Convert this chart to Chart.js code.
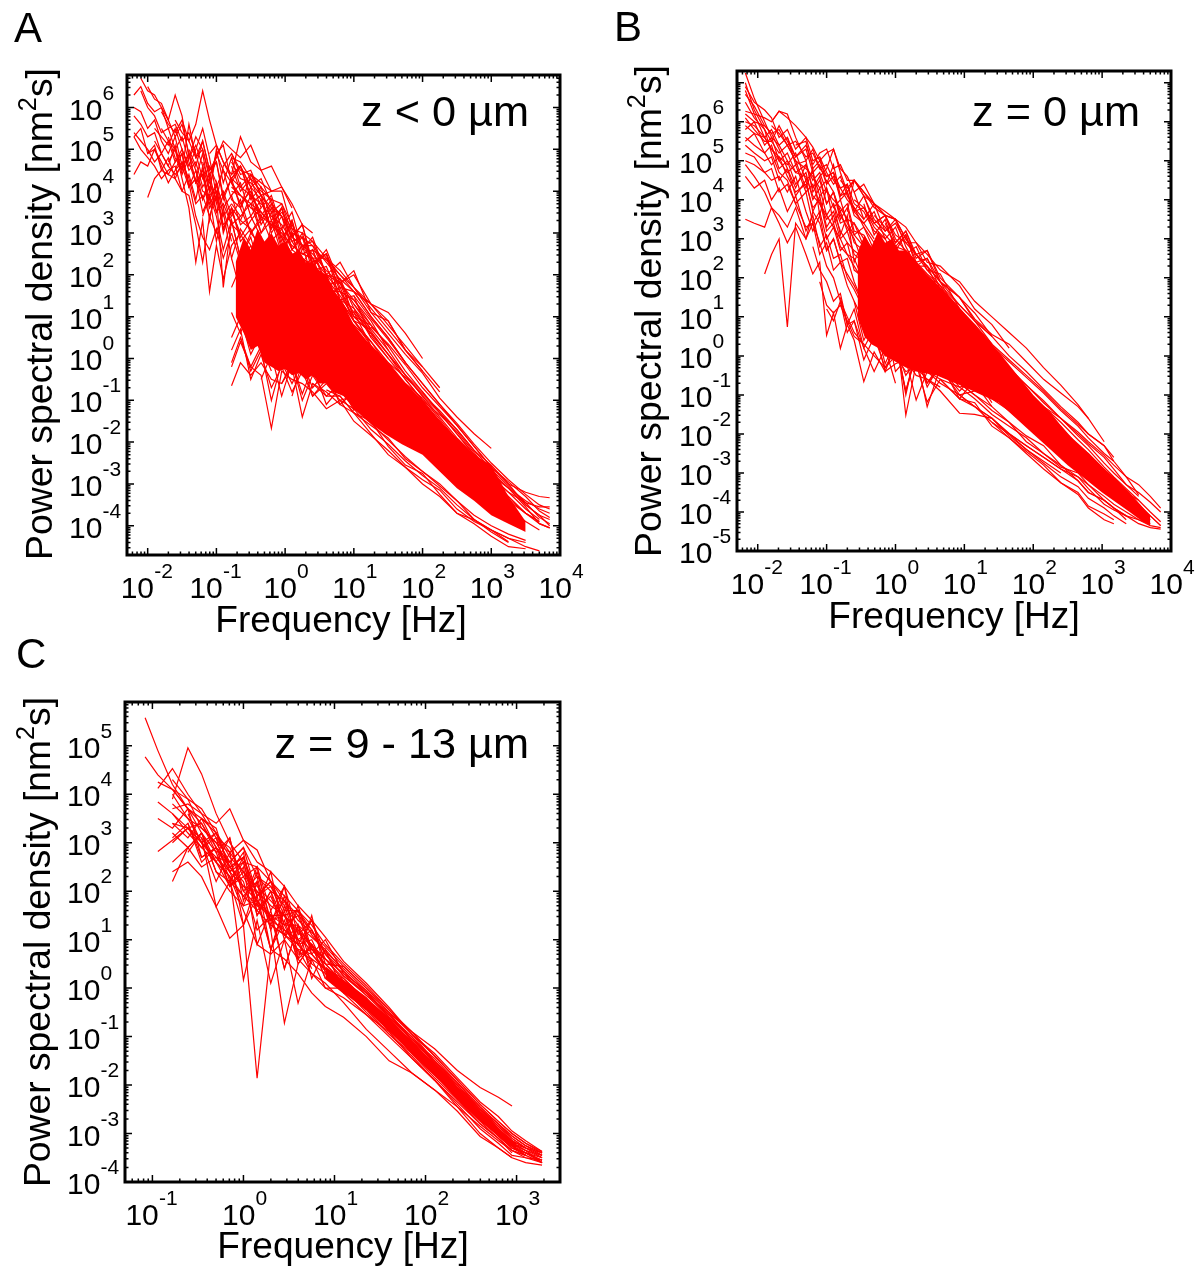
<!DOCTYPE html>
<html>
<head>
<meta charset="utf-8">
<title>Power spectral density</title>
<script src="https://cdn.jsdelivr.net/npm/chart.js@4/dist/chart.umd.min.js"></script>
<style>
html, body { margin: 0; padding: 0; background: #fff; }
canvas { position: absolute; filter: blur(0.4px); }
</style>
</head>
<body>
<canvas id="panelA" width="600" height="640" style="left:0;top:0;width:600px;height:640px"></canvas>
<canvas id="panelB" width="604" height="640" style="left:600px;top:0;width:604px;height:640px"></canvas>
<canvas id="panelC" width="600" height="640" style="left:0;top:630px;width:600px;height:640px"></canvas>
<script>
// all traces are log10 values
// a trace is [index of first frequency, psd, psd, ...]
const xTicksA = [-2, -1, 0, 1, 2, 3, 4];
const yTicksA = [-4, -3, -2, -1, 0, 1, 2, 3, 4, 5, 6];
const logFreqA = [-2.2, -2.1, -2, -1.9, -1.8, -1.7, -1.6, -1.5, -1.4, -1.3, -1.2, -1.1, -1, -0.9, -0.78, -0.65, -0.5, -0.35, -0.2, -0.05, 0.1, 0.25, 0.4, 0.6, 0.8, 1, 1.25, 1.5, 1.75, 2, 2.25, 2.5, 2.75, 3, 3.25, 3.5, 3.7, 3.85];
const tracesA = [
    [0, 6.3, 6.5, 6.1, 5.9, 6, 5.5, 5.6, 5.2, 5.4, 4.9, 4.3, 4.6, 4.2, 3.6, 3.9, 3.2, 3.4, 2.9],
    [0, 5.4, 5.2, 5, 4.7, 4.9, 4.6, 4.4, 4.6, 4.1, 4.3, 3.8, 4.1, 3.5, 3.7, 3.2, 3.4],
    [0, 5.3, 5, 4.8, 4.6, 4.3, 4.5, 4.6, 4, 3.9, 3.2, 2.3, 3.4, 3, 3.6, 2.8],
    [0, 4.4, 4.7, 4.6, 5, 4.6, 4.2, 4.5, 4.7, 4.3, 3.7, 3.9, 3.4, 3.9, 3.2, 3.4],
    [1, 6.7, 6.4, 6.3, 6, 5.7, 5.3, 5.6, 4.9, 4.5, 4, 3.9, 4.1, 4.5, 3.8, 3.6, 3, 3.3],
    [2, 6.5, 6.2, 6.1, 5.7, 6.3, 5.8, 4.8, 5.1, 4.6, 3.3, 4.2, 3, 3.6, 2.8, 3.1],
    [2, 3.85, 4.3, 4.5, 4.4, 4.3, 4.7, 4.2, 3.4, 2.9, 2.6, 3.1, 2.4, 3],
    [4, 5.9, 5.6, 5.4, 5.7, 5.2, 5.6, 6.4, 5.7, 5.1, 4.7, 4.4, 5.3, 4.7, 4.5, 4, 4.1, 3.6],
    [3, 5.5, 5.3, 5.1, 5.5, 5, 4.6, 5, 5.5, 4.8, 3.9, 1.7, 3.3, 2.4, 2.9, 2, 2.8],
    [5, 4.7, 5, 4.3, 3.6, 2.3, 3.3, 1.6, 2.7, 1.9, 2.7, 3, 2.4, 2.2],
    [0, 5.3, 5.5, 4.9, 5.1, 4.5, 4.8, 4.3, 4, 4.4, 3.8, 4.6, 4, 4.9, 4.5, 4.2, 3.9],
    [6, 5.7, 5.4, 5.2, 4.8, 5.2, 4.5, 4.8, 5.2, 5, 4.8, 5.1, 4.5, 4.6, 4.1, 3.7, 3.2, 3],
    [0, 5.8, 5.6, 5.3, 5.4, 4.9, 5.2, 4.7, 5, 4.5, 4.7, 4.1, 4.4, 3.7, 4, 3.4],
    [0, 6, 5.9, 5.5, 5.7, 5.2, 4.9, 5.3, 4.6, 4.9, 4.2, 4.5, 3.8, 4.2, 3.4, 3.7],
    [1, 6.4, 6, 5.8, 5.4, 5.5, 5, 5.3, 4.7, 4.2, 4.4, 3.6, 3.9, 3.1, 3.5, 3],
    [2, 4.9, 5, 4.7, 4.4, 4.7, 4.9, 4.1, 4.5, 3.8, 4.3, 3.5, 3.9, 3.2, 3],
    [3, 5.2, 4.9, 4.6, 5.1, 4.4, 4.8, 5.3, 5, 4.4, 4.7, 3.9, 4.3, 4.6, 3.9, 3.5],
    [4, 5.5, 5.2, 5, 4.5, 5.6, 4.8, 5, 4.3, 4.9, 5.1, 4.2, 4.6, 4.1, 3.8],
    [5, 5.3, 4.8, 4.5, 4.9, 4.2, 4.4, 3.7, 4, 3.1, 3.6, 2.9, 3.3, 3.6],
    [6, 4.5, 4.9, 4.1, 4.3, 3.5, 3.9, 3.4, 2.6, 3.3, 2.4, 3, 2.7],
    [8, 5, 4.6, 5.2, 4.5, 4.7, 3.8, 4.3, 3.6, 4.4, 4.1, 3.8],
    [9, 4.3, 4.9, 4, 5, 4.2, 4.8, 4.1, 4.4, 3.9, 4],
    [10, 4.7, 4.2, 3.8, 4.6, 4.9, 4.4, 4.5, 3.9, 3.5, 3.7, 3.2],
    [10, 3.4, 3.9, 2.8, 3.5, 2.4, 3.1, 2.7, 2, 3.2, 3.5],
    [11, 4.9, 5.1, 4.7, 4.3, 4.6, 4.1, 4.3, 3.7, 3.4],
    [14, 4.9, 4.5, 4.4, 4.2, 4, 4, 3.1, 3, 2.8, 2.4, 2.1, 1.7, 1.1, 0.6, 0.1, -0.35, -0.95, -1.4, -1.8, -2.15],
    [14, 4.8, 4.7, 4.3, 4, 3.8, 3.7, 3, 2.9, 2.7, 2.3, 1.9, 1.6, 1, 0.5, -0.1, -0.6, -1.1, -1.6, -2.1, -2.6, -3, -3.2, -3.3, -3.33],
    [14, 4.7, 4.3, 4.2, 3.9, 3.6, 3.4, 2.9, 2.7, 2.5, 2.1, 1.8, 1.3, 0.8, 0.3, -0.3, -0.8, -1.3, -1.8, -2.3, -2.8, -3.2, -3.45, -3.55, -3.55],
    [14, 4.3, 4.1, 3.9, 3.7, 3.4, 3.2, 2.8, 2.4, 2.2, 1.9, 1.5, 1, 0.6, 0.1, -0.5, -1, -1.5, -2, -2.5, -3, -3.4, -3.7, -3.9],
    [14, 4, 3.9, 3.6, 3.4, 3.2, 2.9, 2.5, 2.2, 2, 1.7, 1.2, 0.8, 0.4, -0.2, -0.7, -1.2, -1.7, -2.2, -2.7, -3.2, -3.6, -3.9, -4.1],
    [14, -0.65, -0.1, -0.4, -0.1, -0.5, -0.6, -0.2, -1.4, -0.6, -0.9, -0.9, -1.3, -1.6, -1.9, -2.4, -2.7, -3, -3.4, -3.85, -4.1, -4.3, -4.4],
    [14, -0.2, 0.4, -0.2, -0.4, -1.67, -0.3, -0.5, -0.6, -0.8, -1.2, -1, -1.5, -1.84, -2.2, -2.6, -2.9, -3.15, -3.6, -3.9, -4.1, -4.3, -4.5, -4.6],
    [22, -0.6, -0.8, -1.1, -1.3, -1.8, -2.3, -2.6, -3, -3.3, -3.7, -3.86, -4.1, -4.38],
    [16, 3.6, 3.5, 3.2, 3, 2.7, 2.5, 2.4, 2, 1.6, 1.1, 0.6, 0.1, -0.4, -0.9, -1.3, -1.8, -2.3, -2.7, -3.1, -3.5, -3.75, -3.85],
    [18, 3.3, 2.9, 2.5, 2.2, 2.1, 1.8, 1.4, 0.9, 0.4, -0.1, -0.6, -1.1, -1.5, -2, -2.4, -2.9, -3.3, -3.7, -3.95, -4.05],
    [14, 4.1, 3.9, 3.7, 3.5, 3.2, 3.1, 2.6, 2.4, 2.2, 1.5, 1.4, 0.9, 0.3, -0.2, -0.7, -1.1, -1.6, -2.1, -2.5, -3, -3.35, -3.7, -3.9],
    [25, 1.3, 0.7, 0.2, -0.4, -0.9, -1.4, -1.9, -2.3, -2.8, -3.1, -3.4, -3.6, -3.7],
    [14, 4.6, 4, 4.3, 3.6, 3.9, 3.1, 3.5, 2.6, 2.9, 2, 1.9, 1.2, 0.7],
    [14, 4.4, 4.6, 3.8, 4.1, 3.3, 3.6, 2.9, 3.2, 2.3, 2.5, 1.6, 1.4, 0.9, 0.2],
    [14, 4.2, 3.7, 4, 3.3, 3.7, 2.8, 3.3, 2.5, 2.6, 1.8, 1.8, 1, 0.6],
    [14, 3.9, 4.2, 3.4, 3.8, 3, 3.4, 2.6, 2.9, 2.1, 2.2, 1.4, 1.2, 0.5, 0],
    [14, 3.7, 3.4, 3.7, 3, 3.5, 2.6, 3, 2.2, 2.4, 1.6, 1.6, 0.9, 0.4],
    [14, 3.4, 3.8, 3, 3.4, 2.8, 3.1, 2.4, 2.7, 1.9, 2, 1.2, 1.1, 0.3],
    [15, 3.6, 4.1, 3.2, 3.6, 2.7, 3.3, 2.3, 2.6, 1.7, 1.9, 1, 0.8],
    [15, 3.3, 3.9, 3, 3.3, 2.5, 3, 2.1, 2.3, 1.5, 1.7, 0.9, 0.7],
    [16, 4, 3.4, 3.8, 2.9, 3.2, 2.7, 2.7, 2, 1.8, 1.4, 0.8, 0.3],
    [16, 3.7, 3.9, 3.1, 3.6, 2.6, 3, 2.2, 2.5, 1.4, 1.5, 0.5],
    [17, 3.8, 3.1, 3.6, 2.8, 2.9, 2.4, 2.4, 1.7, 1.6, 1, 0.5, -0.1],
    [18, 3.7, 3.4, 2.9, 3.2, 2.2, 2.6, 1.8, 2.1, 1.1, 0.9, 0.2, -0.3],
    [19, 3.5, 3.1, 2.7, 2.8, 2, 2.3, 1.7, 1.3, 0.9, 0.2, -0.2],
    [20, 2.9, 2.7, 2.3, 2.5, 1.8, 2, 1.3, 1.1, 0.6, 0],
    [22, 2.6, 2.35, 2, 1.6, 1.3, 0.8, 0.3, -0.2, -0.7],
    [23, 2.4, 2, 1.7, 1.2, 0.7, 0.2, -0.3, -0.8],
    [25, 1.5, 0.95, 0.45, -0.1, -0.6, -1.1, -1.55, -2.05, -2.5, -2.9, -3.25, -3.5, -3.6],
    [25, 1.15, 0.65, 0.1, -0.4, -0.8, -1.3, -1.7, -2.2, -2.65, -3.05, -3.45, -3.8, -3.95],
    [26, 0.75, 0.35, -0.15, -0.7, -1.15, -1.6, -2.1, -2.6, -2.95, -3.3, -3.65, -3.8],
    [26, 0.55, 0, -0.5, -1, -1.35, -1.75, -2.25, -2.75, -3.1, -3.55, -3.95, -4.05],
    [26, 0.3, -0.2, -0.6, -0.95, -1.45, -1.95, -2.4, -2.85, -3.2, -3.6, -3.85],
    [27, -0.1, -0.45, -0.85, -1.25, -1.7, -2.2, -2.55, -3, -3.5, -3.75, -4],
    [25, -1.1, -1.55, -1.95, -2.35, -2.7, -3.05, -3.4, -3.75, -4, -4.2, -4.35],
    [24, -1, -1.2, -1.7, -2.05, -2.45, -2.8, -3.1, -3.5, -3.85, -4.15, -4.4],
    [23, -0.75, -0.9, -1.3, -1.5, -2.1, -2.55, -2.75, -3.25, -3.7, -3.95, -4.25, -4.5, -4.55],
    [14, 0.2, 0.7, -0.5, 0.1, -0.7, -0.2, -0.8, -0.3, -0.9, -0.6, -1, -0.9, -1.4],
    [15, 0.5, -0.3, 0.2, -1, -0.1, -0.6, -0.1, -0.9, -0.5, -0.8, -1.1, -1.5],
    [17, -0.5, 0.1, -0.9, -0.1, -0.85, -0.2, -1.1, -0.7, -1, -1.24, -1.3, -1.6],
    [19, -0.6, -0.1, -1, -0.4, -0.9, -0.6, -1.24, -0.9, -1.3, -1.7],
    [20, -0.9, -0.1, -0.7, -0.3, -1.1, -0.8, -1.2, -1.6, -2],
    [14, 3.6, 3.3, 3.1, 2.5],
    [14, 3, 2.3, 2.7, 2, 1.8],
    [14, 2.4, 1.6, 2.1, 1.2, 1.6],
    [14, 1.7, 2.2, 1, 1.4, 0.7],
    [14, 1.1, 0.6, 1.3, 0.3, 0.8],
    [14, 0.5, 1, 0.1, 0.6, -0.1],
    [14, -0.1, 0.5, -0.2, 0.3, -0.3]
];
// where the traces overlap to solid red
const coreFreqA = [-0.72, -0.6, -0.5, -0.4, -0.3, -0.2, -0.1, 0, 0.1, 0.2, 0.3, 0.4, 0.5, 0.6, 0.7, 0.85, 1, 1.2, 1.45, 1.7, 2, 2.25, 2.5, 2.75, 3, 3.25, 3.5];
const coreTopA = [2.3, 2.9, 2.6, 3.1, 2.8, 3, 2.7, 2.8, 2.5, 2.6, 2.3, 2.3, 2.1, 2, 1.65, 1.3, 0.8, 0.4, 0, -0.5, -1, -1.5, -1.9, -2.3, -2.55, -3.3, -3.9];
const coreBottomA = [1, 0.6, 0.2, 0.3, -0.1, -0.2, -0.3, -0.25, -0.4, -0.35, -0.5, -0.4, -0.6, -0.6, -0.8, -0.9, -1.2, -1.5, -1.8, -2.05, -2.3, -2.7, -3.1, -3.4, -3.75, -3.95, -4.15];

const xTicksB = [-2, -1, 0, 1, 2, 3, 4];
const yTicksB = [-5, -4, -3, -2, -1, 0, 1, 2, 3, 4, 5, 6];
const logFreqB = [-2.18, -2.05, -1.9, -1.8, -1.69, -1.57, -1.45, -1.3, -1.2, -1.1, -1, -0.9, -0.8, -0.7, -0.6, -0.46, -0.31, -0.15, 0, 0.15, 0.3, 0.46, 0.65, 0.93, 1.15, 1.4, 1.65, 1.9, 2.15, 2.4, 2.65, 2.8, 3.03, 3.17, 3.35, 3.53, 3.7, 3.85];
const tracesB = [
    [0, 7.25, 6.6, 6, 5.6, 5.4, 5, 4.7, 4.6, 4.1, 3.9, 3.6, 3.3, 3, 2.6, 2.3, 1.9, 1.3, 0.8, 0.4, 0.2, -0.2, -0.4, -0.7, -1, -1.3, -1.6, -2, -2.3, -2.6, -2.9, -3.1, -3.3, -3.6, -3.8, -4, -4.2, -4.35, -4.4],
    [0, 6.27, 6.2, 6.1, 6, 6.27, 6.2, 5.6, 5, 5.3, 4.8, 4.9, 4.5, 4.3, 4, 3.8, 3.3, 2.9, 2.6, 2.3, 2, 1.7, 1.3, 1, 0.5, 0.2, -0.2, -0.6, -0.9, -1.3, -1.6, -1.95, -2.2, -2.55, -2.8, -3.1, -3.3, -3.6, -3.9],
    [0, 6.5, 6.1, 5.8, 5.5, 5.9, 5.5, 5.1, 5.4, 4.9, 5.2, 5.3, 4.8, 4.9, 4.5, 4.5, 4.1, 3.5, 3.2, 3.5, 2.8, 2.3, 2.3, 1.9, 1.5, 0.95, 0.55, 0.3, -0.15, -0.6, -0.95, -1.3, -1.6],
    [0, 3.5, 3.4, 3.3, 3.8, 3.4, 2.9, 3.3, 2.6, 2.1, 2.4, 0.53, 1.1, 0.19, 0.8, 0.4, -0.66, 0.1, -0.4, -0.2, -0.1, -0.5, -0.6, -0.9, -1.47, -1.5, -1.6, -1.99, -2.3, -2.6, -2.9, -3.2, -3.5, -3.7, -3.9, -4.2],
    [2, 2.1, 2.6, 3, 0.74, 3.4, 3, 3.7, 3.4, 2.7, 3, 2.4, 2.5, 1.9, 1.3, 1.1, 0.9, -0.4, -0.1, -1.13, -0.4, -0.5, -0.7, -1, -1.3, -1.7, -2.05, -2.3, -2.8, -3.2, -3.5, -3.7, -3.9, -4.1, -4.2, -4.3],
    [0, 6.1, 5.8, 5.5, 5.5, 5.2, 5.4, 5, 4.8, 4.6, 4.3, 4.5, 4.2, 3.6, 3.3, 3, 2.3, 1.9, 1.2, 0.8, -1.52, -0.2, -1.18, -0.6, -0.8, -1.1, -1.5, -1.8, -2.1, -2.5, -2.85, -3, -3.3, -3.7, -3.9, -4.1, -4.3, -4.4, -4.44],
    [0, 5.9, 5.7, 5.6, 5.3, 5, 4.7, 4.9, 4.2, 4.4, 3.9, 3.5, 3.7, 3.2, 2.9, 2.7, 2.5, 2.2, 1.6, 1.5, 1.2, 1, 0.7, 0.3, -0.1, -0.5, -0.8, -1.2, -1.5, -1.9, -2.3, -2.6, -2.8, -3.1, -3.3, -3.6, -3.8, -4.1, -4.35],
    [0, 5.6, 5.4, 5.2, 4.9, 5.1, 4.6, 4.2, 4.4, 3.8, 4, 3.2, 3.4, 2.8, 2.6, 2.5, 1.9, 1.7, 1.1, 1.2, 0.8, 0.5, 0.3, 0, -0.4, -0.7, -1.1, -1.4, -1.8, -2.1, -2.5, -2.8, -3, -3.4, -3.6, -3.8, -4, -4.2],
    [0, 5.2, 5.1, 4.7, 4.5, 4.6, 4.2, 4.6, 3.7, 3.2, 3.6, 2.7, 3, 2.4, 2.1, 1.8, 1.3, 1, 0.6, 0.7, 0.4, 0.2, -0.1, -0.3, -0.7, -1, -1.4, -1.7, -2.2, -2.5, -2.8, -3.1, -3.4, -3.8, -3.95, -4.1],
    [0, 4.9, 4.6, 4.2, 3.8, 3.6, 3.3, 3.8, 3, 3.4, 2.6, 2.9, 2.2, 2.4, 1.8, 1.4, 0.9, 0.5, 0.2, 0.3, 0, -0.2, -0.4, -0.6, -1.1, -1.3, -1.7, -2, -2.4, -2.7, -3],
    [0, 6.7, 6.4, 5.9, 5.7, 5.3, 4.8, 4.3, 4.9, 4.5, 4.7, 4.2, 4, 3.8, 3.5, 3.4, 3, 2.7, 2.3, 2.1, 1.8, 1.5, 1, 0.8, 0.3, 0, -0.3, -0.8, -1.2, -1.5, -1.8, -2.3, -2.5, -2.9, -3.15, -3.5, -3.7],
    [12, 4.5, 4.3, 4.5, 4.2, 3.9, 3.7, 3.5, 3.3, 2.9, 2.6, 2.2, 1.9, 1.4, 1, 0.6, 0.2, -0.3, -0.75, -1.25, -1.6, -2.2],
    [15, 3.8, 3.4, 3.1, 2.8, 2.7, 2.4, 2.1, 1.8, 1.3, 0.9, 0.5, 0, -0.4, -0.85, -1.3, -1.7, -2, -2.3, -2.6],
    [20, 2, 1.8, 1.4, 1.1, 0.7, 0.3, -0.1, -0.5, -0.9, -1.35, -1.75, -2, -2.3, -2.7, -3.1, -3.56],
    [20, 1.9, 1.7, 1.2, 0.9, 0.5, 0.1, -0.3, -0.75, -1.2, -1.6, -2, -2.25, -2.6, -2.9, -3.3, -3.6],
    [9, 1.9, 1.3, 1.1, 1.3, 0.9, 0.5, 0.3, 0, -0.3, 0, -0.4, -0.3, -0.6, -0.8],
    [8, 2.8, 2.2, 1.9, 1.4, 1.6, 0.8, 0.9, 0.2, -0.4, 0.2, -0.7],
    [3, 6, 6.27, 6.1, 5.9, 5.6, 5.35, 5, 5.2, 5.3, 4.8, 4.6, 4.2, 4.4, 3.9, 3.6, 3, 2.7, 2.4],
    [0, 7, 6.3, 5.8, 5.2, 4.7, 4.5, 3.9, 3.3, 3.4, 2.9, 2.3, 2, 1.4, 1, 0.6, 0.3],
    [9, 4.6, 4.8, 5.3, 4.7, 4.2, 4.5, 4.2, 3.8, 3.6, 3.5, 3, 2.6, 2.3, 1.6, 1, 0.7, 0.2],
    [13, 3.7, 4.5, 4.1, 3.9, 3.6, 3.5, 3, 2.6, 2.3, 1.9, 1.5, 1.1, 0.5],
    [0, 6.2, 6, 5.9, 5.7, 5.8, 5.4, 5.5, 5.1, 5.2, 4.8, 4.6, 4.7, 4.3, 4.4, 3.9, 3.7, 3.2, 3],
    [0, 6, 5.9, 5.6, 5.8, 5.4, 5.6, 5.1, 5.3, 4.7, 4.9, 4.4, 4.6, 4.1, 4.2, 3.6, 3.4, 3],
    [0, 5.8, 6, 5.4, 5.6, 5, 5.2, 4.7, 4.9, 4.3, 4.6, 3.9, 4.2, 3.7, 3.9, 3.2, 3.1, 2.6],
    [0, 5.5, 5.7, 5.2, 5.4, 4.8, 5, 4.4, 4.7, 4, 4.3, 3.6, 3.9, 3.4, 3.5, 2.9, 2.7, 2.2],
    [0, 5.4, 5.2, 5, 5.1, 4.5, 4.8, 4.1, 4.5, 3.7, 4.1, 3.3, 3.6, 3, 3.2, 2.6, 2.4, 1.9],
    [0, 5, 4.9, 4.7, 4.8, 4.2, 4.4, 3.9, 4.2, 3.4, 3.7, 3, 3.3, 2.7, 2.9, 2.2, 2, 1.5],
    [0, 4.6, 4.3, 4.5, 4, 4.3, 3.7, 4.1, 3.2, 3.6, 2.8, 3.1, 2.5, 2.6, 2, 1.7, 1.2],
    [0, 6.8, 6.2, 5.6, 5.3, 5.1, 4.9, 5.2, 4.5, 4.7, 4.1, 4.3, 3.8, 4, 3.4, 3.1, 2.8],
    [0, 6.9, 6.5, 6.3, 6.1, 5.6, 5.8, 5.3, 5.6, 5, 5.1, 4.7, 4.4, 4.6, 4.1, 3.8, 3.5],
    [3, 5.9, 5.7, 5.4, 5, 4.3, 4.8, 3.6, 4.3, 3.4, 3.7, 3.2, 3.4, 2.8, 2.5],
    [5, 5.6, 4.9, 5, 4.2, 4.5, 3.9, 4.2, 3.5, 3.8, 3.1, 3.3, 2.7, 2.4, 2],
    [6, 5.4, 5.5, 4.8, 5, 4.6, 4.7, 4, 4.2, 3.7, 3.8, 3.3, 3, 2.5],
    [9, 5.1, 4.4, 4.9, 4.1, 4.4, 3.7, 4.1, 3.4, 3.6, 3.1, 2.9, 2.6, 2.2],
    [11, 3.9, 3.1, 3.6, 2.4, 3, 2.1, 2.7, 1.8, 2.2, 1.4, 1.2, 0.9],
    [14, 4.2, 3.5, 3.9, 3.2, 3.4, 2.9, 2.9, 2.4, 2.3, 1.8, 1.2, 0.8, 0.2],
    [14, 4, 3.8, 3.4, 3.6, 2.9, 3.2, 2.6, 2.7, 2, 1.5, 0.9, 0.5],
    [14, 3.7, 3.4, 3.7, 3, 3.3, 2.6, 2.8, 2.2, 2.1, 1.2, 0.8, 0.3],
    [15, 3.9, 3.1, 3.5, 2.7, 3.1, 2.3, 2.5, 1.9, 1, 0.7, 0.1],
    [16, 3.6, 3.3, 2.9, 3.2, 2.5, 2.7, 1.9, 1.3, 0.9, 0.3],
    [17, 3.4, 2.8, 3.1, 2.4, 2.5, 1.7, 1.1, 0.7, 0.1],
    [21, 2.2, 1.8, 1, 0.6, 0.25, -0.15, -0.55, -0.95, -1.4, -1.8, -2.1, -2.5, -2.7],
    [23, 0.75, 0.35, 0, -0.35, -0.75, -1.15, -1.6, -2.05, -2.3, -2.75, -3, -3.3, -3.5, -3.75, -4],
    [24, 0.3, -0.05, -0.45, -0.9, -1.3, -1.7, -2.15, -2.4, -2.85, -3.1, -3.4, -3.7, -4, -4.25],
    [25, -0.2, -0.6, -1, -1.45, -1.9, -2.3, -2.55, -3, -3.25, -3.55, -3.85, -4.1, -4.35],
    [23, -1, -1.3, -1.6, -2.05, -2.4, -2.75, -3.1, -3.35, -3.65, -3.9, -4.1, -4.3],
    [22, -0.6, -1.1, -1.2, -1.8, -2.1, -2.5, -2.9, -3.25, -3.5, -3.85, -4.05, -4.2],
    [25, -1.7, -2.1, -2.45, -2.8, -3.25, -3.55, -3.9, -4.2, -4.3],
    [10, 1.2, 0.9, 1.4, 0.6, 0.9, -0.1, 0.5, -0.3, 0.2, -0.5, -0.1, -0.7, -0.3, -1, -0.9],
    [12, 1.5, 0.8, 1.2, 0.2, 0.7, -0.4, 0.3, -0.9, 0.1, -0.8, -0.2, -1.1, -0.6, -1],
    [14, 1.4, 0.4, 0.9, -0.2, 0.4, -0.9, 0, -1.3, -0.3, -0.9, -0.5, -1.2],
    [16, 0.6, 0, 0.5, -1, 0.2, -0.7, -0.2, -0.8, -0.7, -1.3]
];
const coreFreqB = [-0.55, -0.45, -0.35, -0.25, -0.15, -0.05, 0.05, 0.15, 0.3, 0.45, 0.6, 0.8, 1, 1.25, 1.5, 1.75, 2, 2.25, 2.5, 2.75, 3, 3.2, 3.4, 3.55, 3.7];
const coreTopB = [2.6, 3.1, 2.8, 3.2, 2.9, 3, 2.7, 2.7, 2.4, 2.1, 1.85, 1.5, 1.1, 0.6, 0.1, -0.45, -1, -1.45, -2, -2.4, -2.85, -3.15, -3.5, -3.8, -4.1];
const coreBottomB = [1, 0.5, 0.3, 0.2, 0, -0.1, -0.2, -0.3, -0.4, -0.45, -0.5, -0.65, -0.8, -1, -1.2, -1.6, -2, -2.4, -2.8, -3.15, -3.5, -3.75, -4, -4.2, -4.35];

const xTicksC = [-1, 0, 1, 2, 3];
const yTicksC = [-4, -3, -2, -1, 0, 1, 2, 3, 4, 5];
const logFreqC = [-1.08, -0.94, -0.78, -0.61, -0.46, -0.3, -0.15, 0, 0.15, 0.3, 0.45, 0.6, 0.75, 0.9, 1.1, 1.35, 1.6, 1.85, 2.1, 2.35, 2.6, 2.8, 2.95, 3.1, 3.28];
const tracesC = [
    [0, 5.58, 4.9, 4.2, 3.7, 3.5, 3.2, 2.7, 2.4, 2, 1.7, 1.5, 1.15, 0.85, 0.6, 0.3, -0.05, -0.5, -0.9, -1.25, -1.7, -2.05, -2.25, -2.43],
    [0, 4.77, 4.4, 4.1, 3.9, 3.3, 3, 2.5, 2.1, 1.8, 1.4, 1.2, 0.9, 0.6, 0.4, 0.1, -0.3, -0.7, -1.1, -1.5, -1.95, -2.45, -2.8, -3.05, -3.25, -3.4],
    [2, 3.9, 4.96, 4.42, 3.6, 3, 2.6, 2.5, 2.2, 1.9, 1.6, 1.3, 0.9, 0.5, 0.05, -0.45, -0.9, -1.4, -1.9, -2.4, -2.75, -3, -3.2, -3.37],
    [1, 4.12, 4.53, 4, 3.6, 3.4, 3.7, 3.05, 2.85, 2.2, 1.8, 1.4, 1.15, 0.85, 0.45, 0, -0.45, -0.95, -1.4, -1.9, -2.4, -2.75, -3, -3.2, -3.4],
    [1, 3.84, 3.6, 3.3, 3.4, 2.9, 2.4, 2.1, 2, 1.4, 1.5, 1, 0.8, 0.5, 0.1, -0.3, -0.75, -1.25, -1.65, -2.1, -2.6, -2.95, -3.2, -3.35, -3.6],
    [1, 2.82, 3.05, 3.3, 3, 2.7, 2.6, 2, 1.7, 1.5, 1.1, 1.2, 0.7, 0.4, 0.05, -0.4, -0.85, -1.3, -1.8, -2.25, -2.7, -3.05, -3.3, -3.45],
    [2, 2.2, 2.9, 2.5, 2.7, 2.3, 1.6, 0.9, 0.7, 1, 0.6, 0.3, 0, -0.2, -0.55, -1, -1.45, -1.9, -2.4, -2.9, -3.2, -3.45, -3.5, -3.55],
    [2, 2.4, 2.6, 2.3, 1.68, 1.03, 1.3, -1.86, 0.8, 0.6, 0.3, -0.1, -0.38, -0.6, -1, -1.5, -1.75, -2.1, -2.54, -3.06, -3.3, -3.5],
    [2, 3.6, 3.2, 2.9, 2.6, 2.3, 0.17, 1.4, 0.1, 1, -0.31, 0.6, 0, 0, -0.5, -0.95, -1.4, -1.9, -2.35, -2.8, -3.1, -3.35, -3.5, -3.6],
    [2, 4, 3.5, 3.3, 3, 2.8, 3.05, 2.6, 2.4, 2.1, 1.7, 1.4, 1.05, 0.55, 0.1, -0.4, -0.95, -1.35, -1.85, -2.35, -2.65, -2.95, -3.15, -3.37],
    [1, 4.25, 4.1, 3.7, 3.2, 2.4, 2.2, 2.7, 1.9, 2.1, 1.5, 1.6, 1.2, 0.7, 0.25, -0.15, -0.6, -1.05, -1.55, -2.05, -2.5, -2.85, -3.15, -3.3, -3.5],
    [2, 3.1, 3.4, 2.7, 2.9, 2.5, 2.2, 1.2, 1.5, 0.4, 1.3, 0.5, 0.3, -0.05, -0.45, -0.95, -1.35, -1.85, -2.3, -2.75, -3.1, -3.35, -3.45, -3.6],
    [2, 3.7, 3.8, 3.6, 3.1, 2.6, 2.9, 2.3, 2, 1.8, 1.5, 1.2, 0.7, 0.35, -0.1, -0.55, -1, -1.5, -2, -2.5, -2.85, -3.1, -3.3, -3.45],
    [3, 3.3, 3.1, 1.68, 2.2, 1.9, 2.2, 1.2, -0.72, 0.5, 0.9, 0.2, -0.1, -0.55, -0.9, -1.45, -1.9, -2.45, -2.85, -3.15, -3.35, -3.45],
    [4, 3.5, 3.3, 2.4, 1.7, 1.8, 0.8, 1.4, 0.6, 0.9, 0.4, 0.15, -0.3, -0.7, -1.25, -1.7, -2.2, -2.65, -3, -3.25, -3.4, -3.55],
    [2, 4.3, 3.9, 3.7, 3.2, 2.8, 2.4, 2.1, 1.8, 1.5, 1.2, 0.9, 0.6, 0.2, -0.25, -0.7, -1.15, -1.6, -2.1, -2.6, -2.95, -3.2, -3.35, -3.45],
    [2, 3.4, 3.1, 3.5, 2.9, 2.6, 2.9, 1.9, 2.2, 1.6, 1.6, 1.1, 0.75, 0.4, -0.05, -0.6, -1.05, -1.5, -2.05, -2.55, -2.9, -3.15, -3.3],
    [2, 3, 3.3, 2.9, 3.1, 2.2, 2.6, 1.5, 2, 1.3, 1.5, 0.8, 0.5, 0.1, -0.35, -0.8, -1.2, -1.7, -2.25, -2.7, -3.05, -3.3, -3.4, -3.55],
    [2, 2.6, 2.9, 3.2, 2.4, 2, 1.7, 2.4, 1.4, 1.8, 1, 1.2, 0.6, 0.15, -0.2, -0.75, -1.2, -1.55, -2.15, -2.65, -3, -3.25, -3.45],
    [2, 3.8, 3.5, 3, 3.2, 2.5, 2.7, 1.7, 2.4, 1.1, 1.6, 0.7, 1, 0.3, -0.15, -0.5, -1.1, -1.6, -2, -2.55, -2.9, -3.2, -3.35, -3.5],
    [2, 4.1, 3.7, 3.4, 2.8, 3.1, 2, 2.3, 1.2, 1.9, 0.9, 1.4, 0.5, 0.45, 0, -0.5, -0.95, -1.5, -1.95, -2.45, -2.8, -3.05, -3.25, -3.45],
    [1, 3.5, 3.3, 3.7, 2.7, 2.9, 2.1, 2.5, 0.9, 1.6, 0.4, 1.3, 0.2, 0.8, -0.1, -0.3, -0.85, -1.3, -1.75, -2.3, -2.8, -3.1, -3.4],
    [3, 3.6, 3, 2.2, 2.8, 1.3, 2.2, 0.8, 1.7, 0.9, 1, 0.4, 0.2, -0.25, -0.65, -1.15, -1.65, -2.15, -2.6, -2.95, -3.3, -3.4, -3.6],
    [4, 3.1, 2.6, 3.1, 1.8, 2.5, 1.3, 2.1, 0.6, 1.5, 0.3, 0.05, -0.4, -0.8, -1.35, -1.8, -2.2, -2.7, -3, -3.3],
    [5, 3.1, 2.9, 2.3, 2.5, 1.6, 2.1, 1.1, 1.4, 0.7, 0.25, -0.1, -0.6, -1, -1.55, -2, -2.5, -2.9, -3.2, -3.3],
    [8, 2.3, 2.1, 1.7, 1.3, 1.05, 0.8, 0.35, -0.1, -0.55, -1.05, -1.45, -1.95, -2.5, -2.8, -3.1, -3.3, -3.4],
    [9, 1.3, 1.1, 0.8, 0.7, 0.35, 0.15, -0.25, -0.65, -1.1, -1.6, -2.05, -2.5, -2.9, -3.2, -3.4, -3.5],
    [11, 0.8, 0.3, 0.1, -0.3, -0.85, -1.3, -1.75, -2.1, -2.45, -3, -3.3, -3.5, -3.6, -3.65],
    [2, 3.4, 3.3, 3, 2.6, 2.3, 1.9, 1.6, 1.3, 1.1, 0.9, 0.5],
    [2, 3.2, 2.9, 3.2, 2.8, 2.1, 2.3, 1.8, 1.5, 1.3, 0.7, 0.8],
    [3, 3.4, 2.6, 2.9, 2.4, 2.6, 1.6, 1.9, 1.2, 1, 0.4],
    [3, 2.8, 3.2, 2.6, 2.1, 2.4, 1.8, 1.5, 1.5, 0.75, 0.6],
    [4, 2.9, 3.2, 2.5, 2.7, 1.9, 2.2, 1.3, 1.3, 0.8, 0.5],
    [5, 2.7, 2.4, 2.8, 1.5, 2, 1, 1.7, 0.8, 0.6],
    [6, 2.2, 1.3, 1.9, 0.8, 1.6, 0.5, 0.9, 0.2]
];
const coreFreqC = [0.9, 1.1, 1.35, 1.6, 1.85, 2.1, 2.35, 2.6, 2.8, 3];
const coreTopC = [0.45, 0.15, -0.2, -0.6, -1.1, -1.55, -2.05, -2.55, -2.9, -3.2];
const coreBottomC = [0.2, -0.1, -0.45, -0.9, -1.35, -1.8, -2.3, -2.75, -3.05, -3.35];

const FONT = '"Liberation Sans", Arial, sans-serif';

function drawText(ctx, text, x, y, size, stretch) {
    ctx.save();
    ctx.translate(x, y);
    ctx.scale(stretch, 1);
    ctx.font = size + 'px ' + FONT;
    ctx.fillStyle = '#000';
    ctx.textBaseline = 'alphabetic';
    ctx.fillText(text, 0, 0);
    ctx.restore();
}

function textWidth(ctx, text, size, stretch) {
    ctx.font = size + 'px ' + FONT;
    return ctx.measureText(text).width * stretch;
}

// MATLAB style box: black frame, ticks pointing in on all four sides, 10^n labels
const panelFrame = {
    id: 'panelFrame',
    afterDraw(chart, args, opts) {
        const ctx = chart.ctx;
        const area = chart.chartArea;
        const xScale = chart.scales.x;
        const yScale = chart.scales.y;

        ctx.save();
        ctx.strokeStyle = '#000';
        ctx.lineWidth = 1.5;
        ctx.beginPath();
        function xTick(value, len) {
            const px = xScale.getPixelForValue(value);
            if (px < area.left || px > area.right) return;
            ctx.moveTo(px, area.bottom); ctx.lineTo(px, area.bottom - len);
            ctx.moveTo(px, area.top); ctx.lineTo(px, area.top + len);
        }
        function yTick(value, len) {
            const py = yScale.getPixelForValue(value);
            if (py < area.top || py > area.bottom) return;
            ctx.moveTo(area.left, py); ctx.lineTo(area.left + len, py);
            ctx.moveTo(area.right, py); ctx.lineTo(area.right - len, py);
        }
        for (let e = opts.xDecades[0]; e <= opts.xDecades[1]; e++) {
            xTick(Math.pow(10, e), 7);
            for (let m = 2; m < 10; m++) xTick(m * Math.pow(10, e), 3.5);
        }
        for (let e = opts.yDecades[0]; e <= opts.yDecades[1]; e++) {
            yTick(Math.pow(10, e), 7);
            for (let m = 2; m < 10; m++) yTick(m * Math.pow(10, e), 3.5);
        }
        ctx.stroke();
        ctx.lineWidth = 3;
        ctx.strokeRect(area.left, area.top, area.right - area.left, area.bottom - area.top);
        ctx.restore();

        opts.xTicks.forEach(function (e) {
            const px = xScale.getPixelForValue(Math.pow(10, e));
            const start = px - (e < 0 ? 27 : 21.5);
            drawText(ctx, '10', start, opts.xLabelY, 30, 1);
            drawText(ctx, String(e), start + 33.5, opts.xLabelY - 20, 21, 1);
        });
        opts.yTicks.forEach(function (e) {
            const py = yScale.getPixelForValue(Math.pow(10, e));
            drawText(ctx, '10', opts.yLabelX, py + 12, 30, 1);
            drawText(ctx, String(e), opts.yLabelX + 33.5, py - 8, 21, 1);
        });

        // x title, centred
        const xt = 'Frequency [Hz]';
        drawText(ctx, xt, opts.xTitleX - textWidth(ctx, xt, 36, 1.03) / 2, opts.xTitleY, 36, 1.03);

        // y title, rotated, nm^2 has a raised 2
        ctx.save();
        ctx.translate(opts.yTitleX, opts.yTitleY);
        ctx.rotate(-Math.PI / 2);
        const first = 'Power spectral density [nm';
        const last = 's]';
        const w1 = textWidth(ctx, first, 37, 1);
        const w2 = textWidth(ctx, '2', 25, 1);
        const w3 = textWidth(ctx, last, 37, 1);
        const stretch = opts.yTitleLength / (w1 + w2 + w3);
        ctx.scale(stretch, 1);
        const left = -(w1 + w2 + w3) / 2;
        drawText(ctx, first, left, 0, 37, 1);
        drawText(ctx, '2', left + w1, -16, 25, 1);
        drawText(ctx, last, left + w1 + w2, 0, 37, 1);
        ctx.restore();

        drawText(ctx, opts.inset, opts.insetRight - textWidth(ctx, opts.inset, 42, 1.03), opts.insetY, 42, 1.03);
        drawText(ctx, opts.letter, opts.letterX, opts.letterY, 42, 1);
    }
};

function pointsFrom(freqs, values) {
    return values.map(function (v, i) {
        return { x: Math.pow(10, freqs[i]), y: Math.pow(10, v) };
    });
}

function makeDatasets(logFreq, traces, coreFreq, coreTop, coreBottom) {
    const sets = [
        { data: pointsFrom(coreFreq, coreTop), borderWidth: 0, backgroundColor: '#ff0000', fill: '+1' },
        { data: pointsFrom(coreFreq, coreBottom), borderWidth: 0, fill: false }
    ];
    traces.forEach(function (trace) {
        const start = trace[0];
        const values = trace.slice(1, logFreq.length - start + 1);
        sets.push({
            data: pointsFrom(logFreq.slice(start), values),
            borderColor: '#ff0000',
            borderWidth: 1.2,
            fill: false
        });
    });
    return sets;
}

function renderPanel(id, datasets, xRange, yRange, box, frame) {
    const ctx = document.getElementById(id).getContext('2d');
    new Chart(ctx, {
        type: 'line',
        data: { datasets: datasets },
        options: {
            responsive: false,
            animation: false,
            parsing: false,
            normalized: true,
            elements: { point: { radius: 0 }, line: { tension: 0 } },
            layout: { padding: { top: box.top, right: box.right, left: 0, bottom: 0 } },
            plugins: {
                legend: { display: false },
                tooltip: { enabled: false },
                panelFrame: frame
            },
            scales: {
                x: {
                    type: 'logarithmic',
                    min: xRange[0],
                    max: xRange[1],
                    grid: { display: false },
                    border: { display: false },
                    ticks: { display: false },
                    afterFit(scale) { scale.height = box.bottom; }
                },
                y: {
                    type: 'logarithmic',
                    min: yRange[0],
                    max: yRange[1],
                    grid: { display: false },
                    border: { display: false },
                    ticks: { display: false },
                    afterFit(scale) { scale.width = box.left; }
                }
            }
        },
        plugins: [panelFrame]
    });
}

renderPanel('panelA', makeDatasets(logFreqA, tracesA, coreFreqA, coreTopA, coreBottomA),
    [0.005, 10000], [2e-5, 6e6], { left: 127, top: 75, right: 40, bottom: 85 }, {
    xDecades: [-3, 4], yDecades: [-5, 6], xTicks: xTicksA, yTicks: yTicksA,
    xLabelY: 598, yLabelX: 69, xTitleX: 341, xTitleY: 632,
    yTitleX: 52, yTitleY: 314, yTitleLength: 492,
    inset: 'z < 0 µm', insetRight: 529, insetY: 126,
    letter: 'A', letterX: 14, letterY: 42
});

renderPanel('panelB', makeDatasets(logFreqB, tracesB, coreFreqB, coreTopB, coreBottomB),
    [0.005, 10000], [1e-5, 2e7], { left: 137, top: 71, right: 33, bottom: 89 }, {
    xDecades: [-3, 4], yDecades: [-5, 7], xTicks: xTicksB, yTicks: yTicksB,
    xLabelY: 594, yLabelX: 79, xTitleX: 354, xTitleY: 628,
    yTitleX: 61, yTitleY: 311, yTitleLength: 492,
    inset: 'z = 0 µm', insetRight: 540, insetY: 126,
    letter: 'B', letterX: 14, letterY: 41
});

renderPanel('panelC', makeDatasets(logFreqC, tracesC, coreFreqC, coreTopC, coreBottomC),
    [0.05, 3000], [1e-4, 8e5], { left: 125, top: 72, right: 40, bottom: 88 }, {
    xDecades: [-2, 3], yDecades: [-4, 5], xTicks: xTicksC, yTicks: yTicksC,
    xLabelY: 595, yLabelX: 67, xTitleX: 343, xTitleY: 628,
    yTitleX: 50, yTitleY: 312, yTitleLength: 490,
    inset: 'z = 9 - 13 µm', insetRight: 529, insetY: 128,
    letter: 'C', letterX: 16, letterY: 38
});
</script>
</body>
</html>
